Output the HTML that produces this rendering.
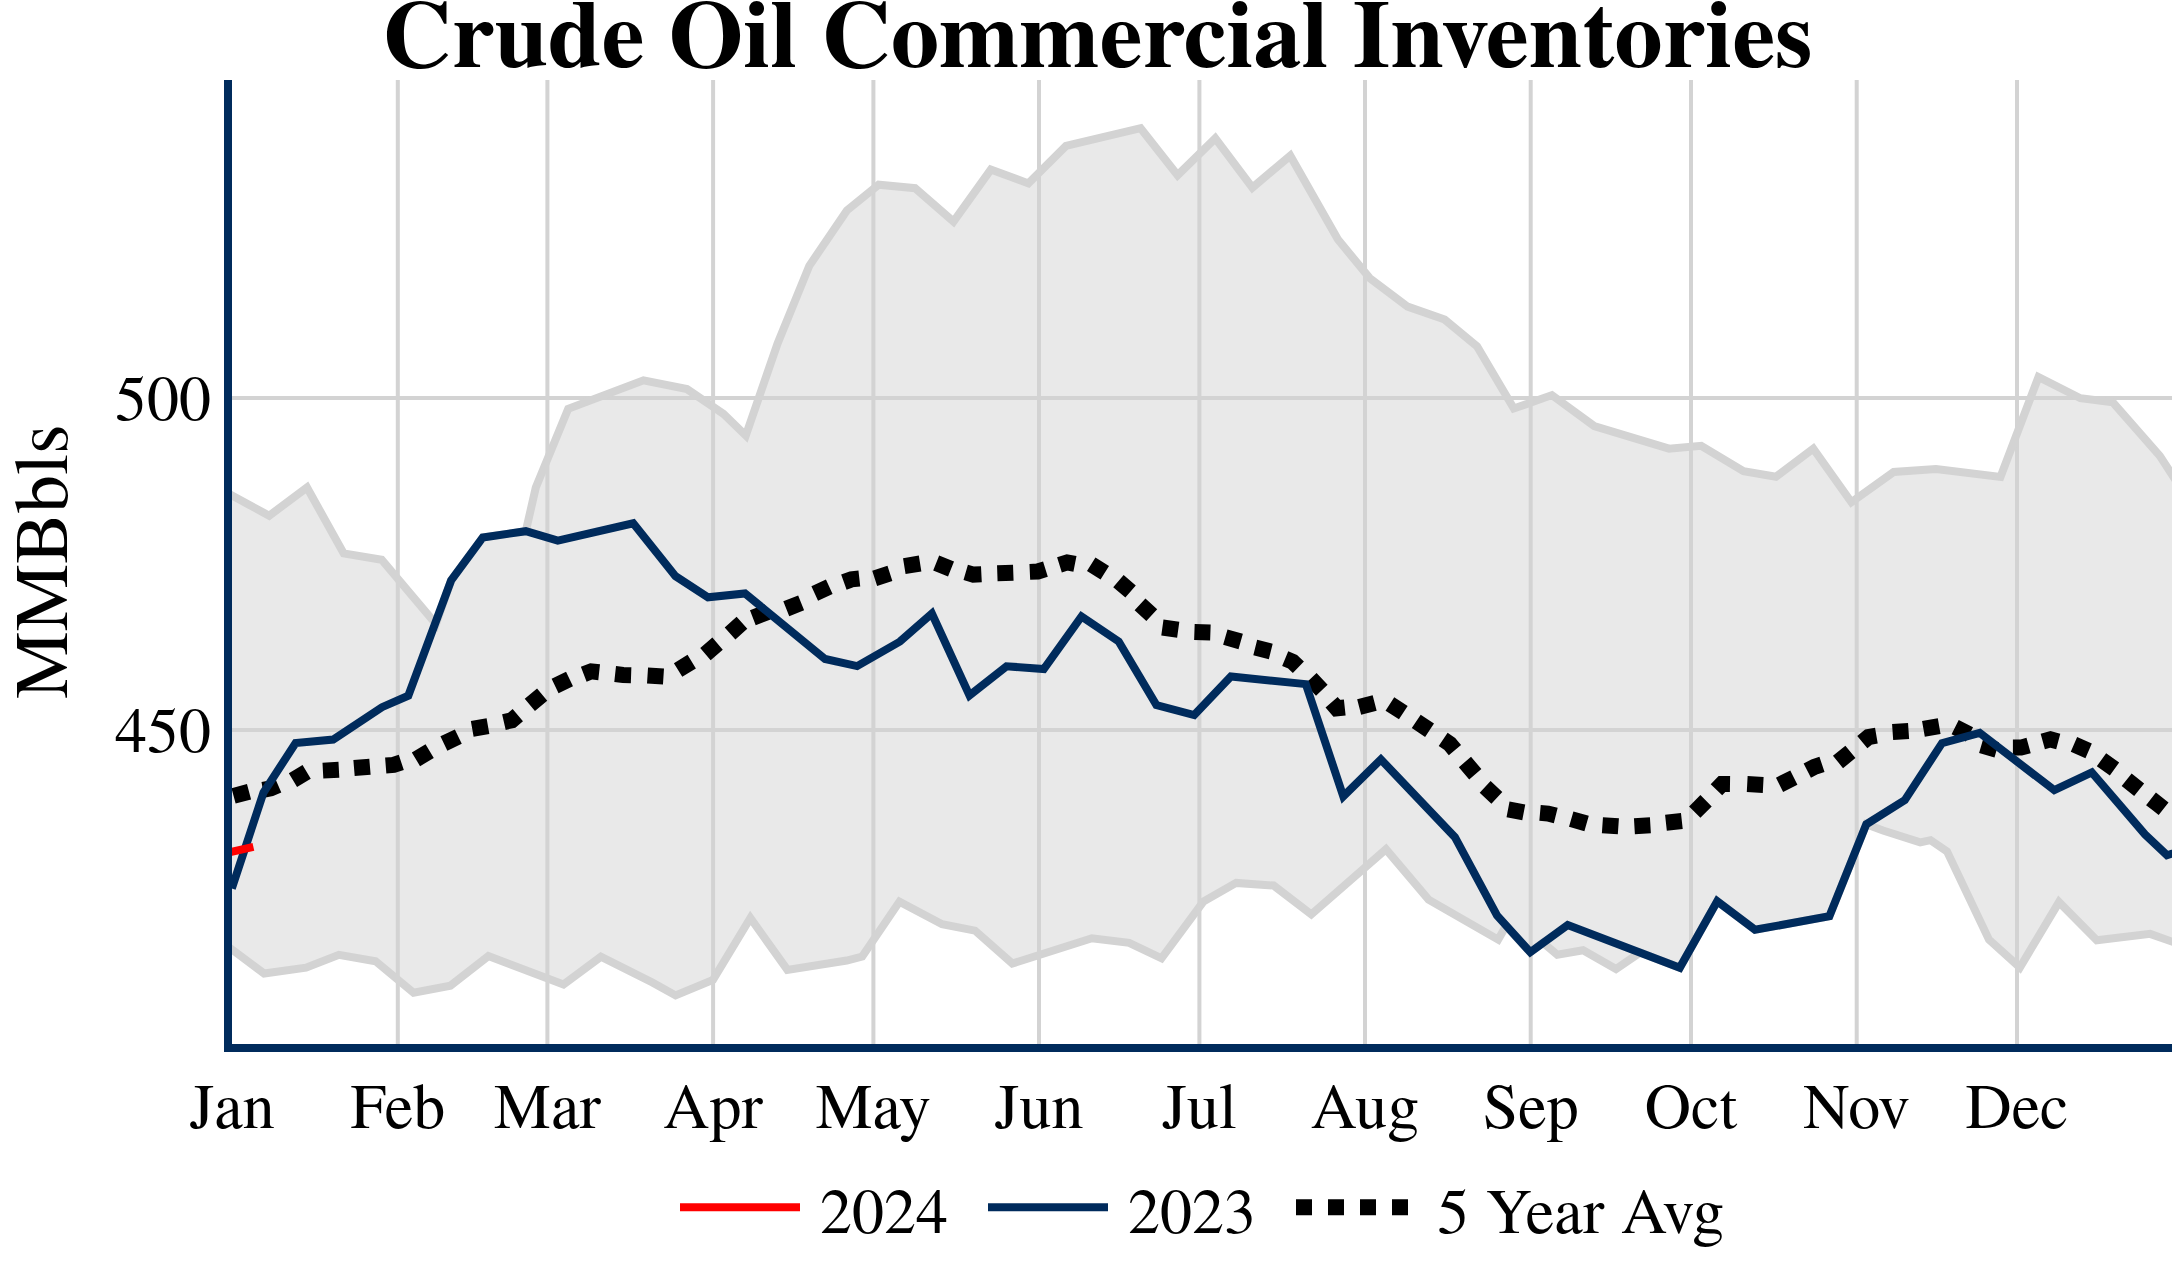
<!DOCTYPE html>
<html><head><meta charset="utf-8"><title>Crude Oil Commercial Inventories</title>
<style>html,body{margin:0;padding:0;background:#fff;overflow:hidden}svg{display:block}</style>
</head><body>
<svg width="2172" height="1276" viewBox="0 0 2172 1276"><defs><clipPath id="pc"><rect x="228" y="80" width="2000" height="968"/></clipPath></defs><rect width="2172" height="1276" fill="#fff"/><g clip-path="url(#pc)"><polygon points="215.0,486.3 232.0,495.5 269.2,515.7 307.0,487.5 343.7,553.4 381.7,559.7 436.0,624.0 451.1,580.5 482.8,537.5 525.8,531.2 535.8,487.5 568.2,408.8 643.5,380.3 687.0,389.1 723.5,413.9 745.8,435.5 777.6,343.4 809.3,265.8 846.9,210.5 878.7,184.7 915.1,188.2 953.5,221.5 990.8,169.6 1028.4,183.4 1066.0,145.8 1140.6,128.2 1177.6,175.2 1215.3,138.4 1252.4,187.6 1290.3,155.7 1337.8,239.3 1369.7,278.1 1407.6,306.6 1444.7,319.6 1477.1,346.4 1513.8,408.5 1551.9,395.1 1594.2,426.1 1669.0,448.7 1701.2,445.8 1743.5,471.2 1775.9,476.8 1813.3,448.6 1851.4,502.2 1893.7,471.9 1936.0,469.1 2000.5,476.9 2038.5,377.0 2080.4,398.2 2112.8,402.3 2159.8,455.8 2197.0,513.0 2190.0,948.0 2150.2,933.9 2096.8,940.3 2059.0,902.1 2019.9,967.5 1989.0,939.6 1947.0,851.4 1930.6,840.2 1920.2,842.4 1883.0,830.5 1866.3,824.3 1829.4,916.2 1755.0,929.8 1717.2,901.3 1679.8,967.7 1640.0,952.6 1616.0,969.0 1583.1,950.3 1557.3,954.8 1543.0,942.7 1530.3,952.2 1506.0,926.0 1498.2,939.6 1428.6,899.6 1386.0,849.3 1311.3,914.4 1273.6,885.5 1236.2,882.9 1203.4,901.6 1161.5,958.3 1129.2,942.8 1091.9,938.3 1012.3,963.5 975.0,930.6 942.1,924.2 899.5,901.6 862.2,956.5 846.7,960.5 787.4,969.9 750.4,918.0 713.0,979.9 675.6,995.4 652.4,982.5 600.9,956.7 563.5,984.4 488.4,956.1 450.4,985.7 413.6,992.8 375.6,961.2 338.9,954.8 306.0,967.7 264.1,973.5 232.1,949.6 215.0,936.8" fill="#e9e9e9"/><path d="M397.8,80V1048M547.4,80V1048M713.1,80V1048M873.4,80V1048M1039.0,80V1048M1199.4,80V1048M1365.0,80V1048M1530.7,80V1048M1691.0,80V1048M1856.7,80V1048M2017.0,80V1048M228,398H2172M228,729.9H2172" stroke="#d3d3d3" stroke-width="4" fill="none"/><polyline points="215.0,486.3 232.0,495.5 269.2,515.7 307.0,487.5 343.7,553.4 381.7,559.7 436.0,624.0 451.1,580.5 482.8,537.5 525.8,531.2 535.8,487.5 568.2,408.8 643.5,380.3 687.0,389.1 723.5,413.9 745.8,435.5 777.6,343.4 809.3,265.8 846.9,210.5 878.7,184.7 915.1,188.2 953.5,221.5 990.8,169.6 1028.4,183.4 1066.0,145.8 1140.6,128.2 1177.6,175.2 1215.3,138.4 1252.4,187.6 1290.3,155.7 1337.8,239.3 1369.7,278.1 1407.6,306.6 1444.7,319.6 1477.1,346.4 1513.8,408.5 1551.9,395.1 1594.2,426.1 1669.0,448.7 1701.2,445.8 1743.5,471.2 1775.9,476.8 1813.3,448.6 1851.4,502.2 1893.7,471.9 1936.0,469.1 2000.5,476.9 2038.5,377.0 2080.4,398.2 2112.8,402.3 2159.8,455.8 2197.0,513.0" fill="none" stroke="#d3d3d3" stroke-width="8"/><polyline points="215.0,936.8 232.1,949.6 264.1,973.5 306.0,967.7 338.9,954.8 375.6,961.2 413.6,992.8 450.4,985.7 488.4,956.1 563.5,984.4 600.9,956.7 652.4,982.5 675.6,995.4 713.0,979.9 750.4,918.0 787.4,969.9 846.7,960.5 862.2,956.5 899.5,901.6 942.1,924.2 975.0,930.6 1012.3,963.5 1091.9,938.3 1129.2,942.8 1161.5,958.3 1203.4,901.6 1236.2,882.9 1273.6,885.5 1311.3,914.4 1386.0,849.3 1428.6,899.6 1498.2,939.6 1506.0,926.0 1530.3,952.2 1543.0,942.7 1557.3,954.8 1583.1,950.3 1616.0,969.0 1640.0,952.6 1679.8,967.7 1717.2,901.3 1755.0,929.8 1829.4,916.2 1866.3,824.3 1883.0,830.5 1920.2,842.4 1930.6,840.2 1947.0,851.4 1989.0,939.6 2019.9,967.5 2059.0,902.1 2096.8,940.3 2150.2,933.9 2190.0,948.0" fill="none" stroke="#d3d3d3" stroke-width="8"/><path d="M233.57,795.87L249.03,791.73M262.93,789.84L270.80,788.40L278.16,785.25M292.94,780.12L306.66,771.88M322.91,770.62L338.89,769.78M354.03,768.07L369.97,766.73M385.72,765.53L393.70,764.90L401.29,762.37M415.94,759.32L429.66,751.08M443.89,743.57L458.31,736.63M472.22,728.99L487.98,726.21M503.91,722.10L511.70,720.30L517.81,715.14M529.84,704.90L542.16,694.70M555.09,685.97L569.51,679.03M583.73,674.27L591.20,671.40L599.15,672.27M615.15,674.03L623.10,674.90L631.10,675.17M647.52,675.48L663.48,676.52M678.09,669.99L691.71,661.61M705.43,654.11L717.57,643.69M730.05,633.45L741.95,622.75M752.84,617.68L767.76,611.92M786.27,608.77L801.13,602.83M814.73,593.43L829.27,586.77M843.88,582.14L851.40,579.40L859.35,578.50M874.68,578.35L889.92,573.45M904.30,566.08L920.10,563.52M936.18,563.00L951.02,569.00M965.71,572.38L973.40,574.60L981.39,574.20M997.30,573.28L1013.30,572.72M1029.81,571.87L1037.80,571.50L1045.44,569.13M1059.46,564.77L1067.10,562.40L1074.95,563.95M1091.22,564.26L1104.78,572.74M1118.43,581.08L1130.57,591.52M1140.02,604.27L1151.78,615.13M1162.38,627.49L1178.22,629.71M1194.40,631.92L1210.40,632.48M1225.31,637.10L1240.69,641.50M1255.24,647.56L1270.76,651.44M1285.20,658.65L1292.60,661.70L1298.38,667.23M1310.79,678.60L1321.81,690.20M1331.59,702.23L1336.80,708.30L1344.75,707.43M1359.15,707.00L1374.65,703.00M1389.89,703.94L1403.31,712.66M1416.25,721.35L1429.55,730.25M1443.16,739.43L1449.80,743.90L1454.94,750.03M1464.92,762.00L1475.28,774.20M1485.15,786.94L1496.85,797.86M1508.04,809.29L1523.76,812.31M1540.03,812.90L1548.00,813.60L1555.76,815.53M1571.21,819.09L1586.59,823.51M1602.42,825.15L1618.38,826.25M1634.41,826.18L1650.39,825.22M1665.95,822.78L1681.85,821.02M1694.74,812.06L1706.06,800.74M1716.45,789.76L1722.00,784.00L1730.00,784.12M1747.21,784.08L1763.19,784.92M1779.55,784.78L1793.85,777.62M1807.29,770.57L1814.40,766.90L1821.98,764.35M1837.98,761.93L1850.42,751.87M1862.31,742.07L1868.50,737.00L1876.39,735.65M1892.62,732.06L1908.58,730.94M1923.42,728.79L1939.18,726.01M1955.15,727.12L1969.45,734.28M1981.31,745.38L1996.69,749.82M2012.90,747.60L2020.90,747.60L2028.61,745.46M2042.79,741.54L2050.50,739.40L2058.23,741.46M2073.96,744.41L2088.64,750.79M2101.50,759.73L2114.50,769.07M2126.65,779.71L2139.15,789.69M2151.00,798.87L2157.30,803.80L2163.60,808.73" fill="none" stroke="#000" stroke-width="16"/><polyline points="231.8,888.5 263.5,792.5 295.6,743.0 333.2,739.6 382.0,707.2 408.3,695.7 451.1,580.5 482.8,537.5 525.8,531.2 557.8,540.7 633.2,523.3 675.5,576.2 708.0,597.3 745.0,593.4 825.1,659.0 857.1,666.1 899.9,641.6 931.9,613.5 969.5,695.5 1006.5,666.3 1043.8,669.0 1081.5,616.5 1118.7,641.5 1156.4,705.1 1194.2,715.0 1230.9,676.5 1305.8,684.1 1343.3,796.4 1380.9,759.4 1454.9,837.2 1497.0,915.5 1530.3,952.2 1567.7,925.1 1679.8,967.7 1717.2,901.3 1755.0,929.8 1829.4,916.2 1866.3,824.3 1904.8,800.2 1942.0,743.1 1979.7,732.9 2054.3,790.2 2091.8,772.4 2145.0,834.4 2167.0,855.2 2200.0,845.0" fill="none" stroke="#002b5c" stroke-width="8"/><polyline points="216.0,855.4 253.4,846.9" fill="none" stroke="#f00" stroke-width="8"/></g><path d="M228,80V1052M224,1048H2172" stroke="#002b5c" stroke-width="8" fill="none"/><g font-family="TeX Gyre Termes, Liberation Serif, serif" fill="#000"><text x="1097.4" y="66.5" font-size="96" font-weight="bold" text-anchor="middle" textLength="1430.5" lengthAdjust="spacing">Crude Oil Commercial Inventories</text><text x="211" y="420.0" font-size="64" text-anchor="end">500</text><text x="211" y="751.9" font-size="64" text-anchor="end">450</text><text x="232.1" y="1127.8" font-size="64" text-anchor="middle">Jan</text><text x="397.8" y="1127.8" font-size="64" text-anchor="middle">Feb</text><text x="547.4" y="1127.8" font-size="64" text-anchor="middle">Mar</text><text x="713.1" y="1127.8" font-size="64" text-anchor="middle">Apr</text><text x="873.4" y="1127.8" font-size="64" text-anchor="middle">May</text><text x="1039.0" y="1127.8" font-size="64" text-anchor="middle">Jun</text><text x="1199.4" y="1127.8" font-size="64" text-anchor="middle">Jul</text><text x="1365.0" y="1127.8" font-size="64" text-anchor="middle">Aug</text><text x="1530.7" y="1127.8" font-size="64" text-anchor="middle">Sep</text><text x="1691.0" y="1127.8" font-size="64" text-anchor="middle">Oct</text><text x="1856.7" y="1127.8" font-size="64" text-anchor="middle">Nov</text><text x="2017.0" y="1127.8" font-size="64" text-anchor="middle">Dec</text><text transform="translate(67.4,561.6) rotate(-90)" font-size="76" text-anchor="middle">MMBbls</text><path d="M680,1207.3H800" stroke="#f00" stroke-width="8"/><path d="M988,1207.3H1108" stroke="#002b5c" stroke-width="8"/><path d="M1296,1207.3H1416" stroke="#000" stroke-width="16" stroke-dasharray="16,16"/><text x="820" y="1233" font-size="64">2024</text><text x="1128" y="1233" font-size="64">2023</text><text x="1437.2" y="1233" font-size="64" textLength="287" lengthAdjust="spacing">5 Year Avg</text></g></svg>
</body></html>
